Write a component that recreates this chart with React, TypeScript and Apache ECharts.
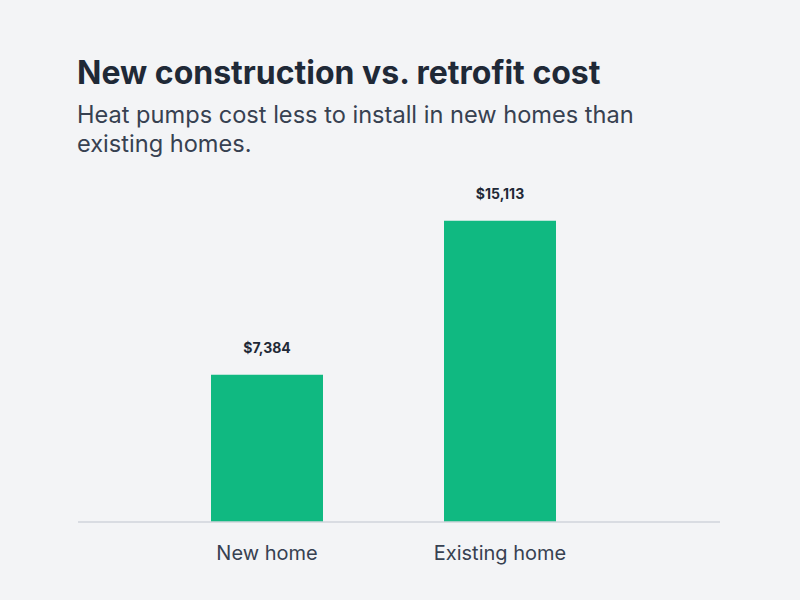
import React, { useEffect, useRef } from "react";
import * as echarts from "echarts";

const categories = ["New home", "Existing home"];
const costs = [7384, 15113];
const titleText = "New construction vs. retrofit cost";
const subtitleText = "Heat pumps cost less to install in new homes than\nexisting homes.";

export default function App() {
  const ref = useRef<HTMLDivElement>(null);
  useEffect(() => {
    document.body.style.margin = "0";
    const chart = echarts.init(ref.current!, undefined, { renderer: "svg" });
    chart.setOption({
      animation: false,
      backgroundColor: "#f3f4f6",
      textStyle: { fontFamily: "Inter" },
      title: {
        text: titleText,
        subtext: subtitleText,
        left: 72,
        top: 51,
        itemGap: 12,
        textStyle: { fontFamily: "Inter", fontSize: 32, fontWeight: 700, color: "#1f2937" },
        subtextStyle: { fontFamily: "Inter", fontSize: 23.6, fontWeight: 400, color: "#374151", lineHeight: 29 },
      },
      grid: { left: 150.5, right: 183.5, top: 203, bottom: 78 },
      xAxis: {
        type: "category",
        data: categories,
        axisLine: { show: false },
        axisTick: { show: false },
        axisLabel: { fontFamily: "Inter", fontSize: 20, color: "#374151", margin: 21 },
      },
      yAxis: {
        type: "value",
        min: 0,
        max: 16000,
        show: false,
        splitLine: { show: false },
      },
      graphic: [
        {
          type: "line",
          shape: { x1: 78, y1: 522, x2: 720, y2: 522 },
          style: { stroke: "#d1d5db", lineWidth: 1.5 },
          z: 10,
        },
      ],
      series: [
        {
          type: "bar",
          data: costs,
          barWidth: 112,
          itemStyle: { color: "#10b981" },
          label: {
            show: true,
            position: "top",
            distance: 20,
            formatter: (p: any) => "$" + p.value.toLocaleString("en-US"),
            fontFamily: "Inter",
            fontSize: 14,
            fontWeight: 700,
            color: "#1f2937",
          },
        },
      ],
    });
    return () => chart.dispose();
  }, []);
  return <div ref={ref} style={{ width: 800, height: 600 }} />;
}
